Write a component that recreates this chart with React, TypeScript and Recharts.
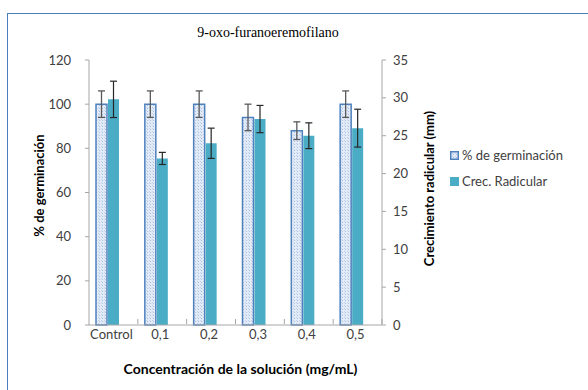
import React from 'react';
import { ComposedChart, Bar, XAxis, YAxis, ErrorBar, Legend } from 'recharts';

const categories = ['Control', '0,1', '0,2', '0,3', '0,4', '0,5'];
const germinacion = [100, 100, 100, 94, 88, 100];
const germinacionErr = [6, 6, 6, 6, 4, 6];
const crecimiento = [29.8, 22.0, 24.0, 27.2, 25.0, 26.0];
const crecimientoErr = [2.4, 0.8, 2.0, 1.8, 1.7, 2.5];
const leftTicks = [0, 20, 40, 60, 80, 100, 120];
const rightTicks = [0, 5, 10, 15, 20, 25, 30, 35];

const data = categories.map((name, i) => ({
  name,
  germ: germinacion[i],
  germErr: germinacionErr[i],
  crec: crecimiento[i],
  crecErr: crecimientoErr[i],
  blank: undefined as number | undefined,
}));

const SANS = 'Lato, "Noto Sans", sans-serif';
const AXIS = '#a6a6a6';
const TXT = '#404040';

const XTick = (props: any) => {
  const { x, y, payload } = props;
  const off = payload.offset || 0;
  return (
    <g>
      <line x1={x + off} x2={x + off} y1={y - 8} y2={y - 3} stroke={AXIS} />
      <text x={x - 2} y={y + 12} textAnchor="middle" fill={TXT} fontFamily={SANS} fontSize={13}>
        {payload.value}
      </text>
    </g>
  );
};

const leftTitle = (p: any) => {
  const vb = p.viewBox;
  const cx = vb.x + 39;
  const cy = vb.y + vb.height / 2 - 7;
  return (
    <text x={cx} y={cy} transform={`rotate(-90 ${cx} ${cy})`} textAnchor="middle" dominantBaseline="central"
      fontFamily={SANS} fontWeight="bold" fontSize={13} fill="#000">% de germinación</text>
  );
};

const rightTitle = (p: any) => {
  const vb = p.viewBox;
  const cx = vb.x + 47;
  const cy = vb.y + vb.height / 2 - 4;
  return (
    <text x={cx} y={cy} transform={`rotate(-90 ${cx} ${cy})`} textAnchor="middle" dominantBaseline="central"
      fontFamily={SANS} fontWeight="bold" fontSize={13} fill="#000">Crecimiento radicular (mm)</text>
  );
};

const bottomTitle = (p: any) => {
  const vb = p.viewBox;
  return (
    <text x={vb.x + vb.width / 2 + 5} y={vb.y + 43} textAnchor="middle" dominantBaseline="central"
      fontFamily={SANS} fontWeight="bold" fontSize={14} fill="#000">Concentración de la solución (mg/mL)</text>
  );
};

const renderLegend = () => (
  <div style={{ fontFamily: SANS, fontSize: 13, color: TXT }}>
    <div style={{ display: 'flex', alignItems: 'center', height: 26 }}>
      <svg width={9} height={9} style={{ marginRight: 3 }}>
        <rect x={0.75} y={0.75} width={7.5} height={7.5} fill="url(#germPat)" stroke="#4f81bd" strokeWidth={1.5} />
      </svg>
      <span>% de germinación</span>
    </div>
    <div style={{ display: 'flex', alignItems: 'center', height: 26 }}>
      <svg width={9} height={9} style={{ marginRight: 3 }}>
        <rect x={0} y={0} width={9} height={9} fill="#4bacc6" />
      </svg>
      <span>Crec. Radicular</span>
    </div>
  </div>
);

export default function App() {
  return (
    <div style={{ position: 'absolute', left: 0, top: 0, width: 588, height: 390, overflow: 'hidden', background: '#fff' }}>
      <div style={{ position: 'absolute', left: 7, top: 13, width: 620, height: 420, border: '1px solid #4a7ebb' }} />
      <div style={{ position: 'absolute', left: 0, top: 25, width: 536, textAlign: 'center', fontFamily: '"Liberation Serif", serif', fontSize: 14, color: '#000' }}>
        9-oxo-furanoeremofilano
      </div>
      <div style={{ position: 'absolute', left: 0, top: 0 }}>
        <ComposedChart width={588} height={390} data={data} margin={{ top: 60, right: 146, bottom: 35, left: 0 }}
          barSize={11} barGap={1}>
          <defs>
            <pattern id="germPat" width={3} height={3} patternUnits="userSpaceOnUse">
              <rect width={3} height={3} fill="#e3ebf7" />
              <rect x={0} y={0} width={1} height={1} fill="#a9bfe4" />
              <rect x={2} y={2} width={1} height={1} fill="#c3d3ee" />
            </pattern>
          </defs>
          <XAxis dataKey="name" height={30} stroke={AXIS} tickLine={false} tickSize={0} tick={<XTick />}
            label={{ content: bottomTitle }} />
          <YAxis yAxisId="l" domain={[0, 120]} ticks={leftTicks} width={89} stroke={AXIS} tickSize={4} tickMargin={14}
            tick={{ fill: TXT, fontFamily: SANS, fontSize: 13 }} label={{ content: leftTitle }} />
          <YAxis yAxisId="r" orientation="right" domain={[0, 35]} ticks={rightTicks} width={60} stroke={AXIS}
            tickSize={4} tickMargin={7} tick={{ fill: TXT, fontFamily: SANS, fontSize: 13 }}
            label={{ content: rightTitle }} />
          <Legend layout="vertical" align="center" verticalAlign="middle" content={renderLegend}
            wrapperStyle={{ left: 450, top: 142, width: 140 }} />
          <Bar yAxisId="l" dataKey="germ" name="% de germinación" fill="url(#germPat)" stroke="#4f81bd"
            strokeWidth={1.5} isAnimationActive={false}>
            <ErrorBar dataKey="germErr" width={3.5} stroke="#595959" strokeWidth={1.3} />
          </Bar>
          <Bar yAxisId="r" dataKey="crec" name="Crec. Radicular" fill="#4bacc6" isAnimationActive={false}>
            <ErrorBar dataKey="crecErr" width={3.5} stroke="#262626" strokeWidth={1.2} />
          </Bar>
          <Bar yAxisId="l" dataKey="blank" legendType="none" fill="none" isAnimationActive={false} />
        </ComposedChart>
      </div>
    </div>
  );
}
